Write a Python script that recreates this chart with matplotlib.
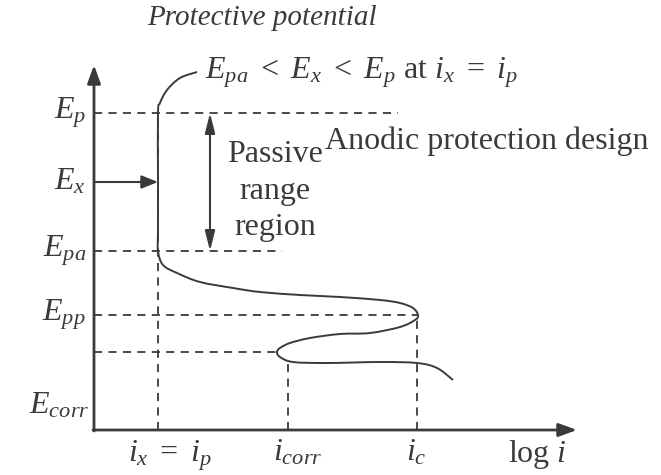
import matplotlib
matplotlib.use("Agg")
import matplotlib.pyplot as plt
import numpy as np
from matplotlib.path import Path
from matplotlib.patches import PathPatch

plt.rcParams['font.family'] = ['Liberation Serif', 'DejaVu Serif']
plt.rcParams['mathtext.fontset'] = 'custom'
plt.rcParams['mathtext.rm'] = 'Liberation Serif'
plt.rcParams['mathtext.it'] = 'Liberation Serif:italic'

# potential levels (schematic units, origin at E_corr)
E_p, E_x, E_pa, E_pp, E_low = 317, 248, 179, 115, 78
# current levels (log i, schematic units)
i_p, i_corr, i_c = 64, 194, 323

# hand-read polarization curve (log i, E)
curve_x = [103, 86, 73, 66, 64, 64, 64, 64, 69, 83, 106, 139, 166, 206, 246,
           286, 306, 319, 324, 321, 306, 276, 246, 216, 196, 186, 183, 186,
           199, 233, 286, 323, 343, 359]
curve_y = [358, 352, 340, 327, 317, 250, 200, 179, 165, 157, 148, 142, 138,
           135, 133, 130, 127, 122, 115, 110, 103, 97, 96, 92, 87, 82, 78,
           73, 68, 67, 68, 67, 62, 50]

# dashed guide lines: (level, extent)
h_levels = [E_p, E_pa, E_pp, E_low]
h_ends = [304, 188, i_c, 183]
v_levels = [i_p, i_corr, i_c]
v_tops = [E_p, 70, E_pp]

col = '#3a3a3a'
fs = 23

fig = plt.figure(figsize=(6.61, 4.75), dpi=100)
ax = fig.add_axes([0, 0, 1, 1])
ax.set_xlim(-94, 567)
ax.set_ylim(-45, 430)
ax.axis('off')

# axes with arrows
ax.annotate('', xy=(0, 365), xytext=(0, -1),
            arrowprops=dict(arrowstyle='-|>,head_length=1.1,head_width=0.4',
                            color=col, lw=2, shrinkA=0, shrinkB=0))
ax.annotate('', xy=(483, 0), xytext=(-1, 0),
            arrowprops=dict(arrowstyle='-|>,head_length=1.1,head_width=0.4',
                            color=col, lw=2, shrinkA=0, shrinkB=0))

# dashed guides
for lev, end in zip(h_levels, h_ends):
    ax.plot([0, end], [lev, lev], ls=(0, (4.5, 3.5)), color=col, lw=1.3)
for lev, top in zip(v_levels, v_tops):
    ax.plot([lev, lev], [0, top], ls=(0, (4.5, 3.5)), color=col, lw=1.3)

# smooth curve (Catmull-Rom -> cubic Bezier)
pts = np.column_stack([curve_x, curve_y]).astype(float)
verts = [pts[0]]
codes = [Path.MOVETO]
for k in range(len(pts) - 1):
    p0 = pts[max(k - 1, 0)]
    p1 = pts[k]
    p2 = pts[k + 1]
    p3 = pts[min(k + 2, len(pts) - 1)]
    verts += [p1 + (p2 - p0) / 6, p2 - (p3 - p1) / 6, p2]
    codes += [Path.CURVE4] * 3
ax.add_patch(PathPatch(Path(verts, codes), fill=False, edgecolor=col, lw=1.4))

# E_x arrow
ax.annotate('', xy=(i_p, E_x), xytext=(0, E_x),
            arrowprops=dict(arrowstyle='-|>,head_length=1.0,head_width=0.4',
                            color=col, lw=1.5, shrinkA=0, shrinkB=0))
# passive range double arrow
ax.annotate('', xy=(116, E_pa), xytext=(116, E_p),
            arrowprops=dict(arrowstyle='<|-|>,head_length=1.2,head_width=0.3',
                            color=col, lw=1.5, shrinkA=0, shrinkB=0))

# left labels
left_labels = [r'$E_p$', r'$E_x$', r'$E_{pa}$', r'$E_{pp}$']
left_levels = [E_p, E_x, E_pa, E_pp]
for lab, lev in zip(left_labels, left_levels):
    ax.text(-8, lev, lab, ha='right', va='center', fontsize=fs, color=col)
ax.text(-4, 24, r'$E_{corr}$', ha='right', va='center', fontsize=fs, color=col)

# bottom labels
bottom_labels = [r'$i_x\ =\ i_p$', r'$i_{corr}$', r'$i_c$', r'log $i$']
bottom_pos = [76, 204, 322, 443]
for lab, pos in zip(bottom_labels, bottom_pos):
    ax.text(pos, -8, lab, ha='center', va='top', fontsize=fs, color=col)

# annotations
ax.text(168, 412, 'Protective potential', ha='center', va='center',
        fontsize=21, style='italic', color=col)
ax.text(111, 351, r'$E_{pa}\ <\ E_x\ <\ E_p$ at $i_x\ =\ i_p$', ha='left',
        va='baseline', fontsize=fs, color=col)
ax.text(231, 281, 'Anodic protection design', ha='left', va='baseline',
        fontsize=fs, color=col)
ax.text(181, 290, 'Passive\nrange\nregion', ha='center', va='top',
        fontsize=fs, color=col, linespacing=1.35)

fig.savefig('out.png', dpi=100)
